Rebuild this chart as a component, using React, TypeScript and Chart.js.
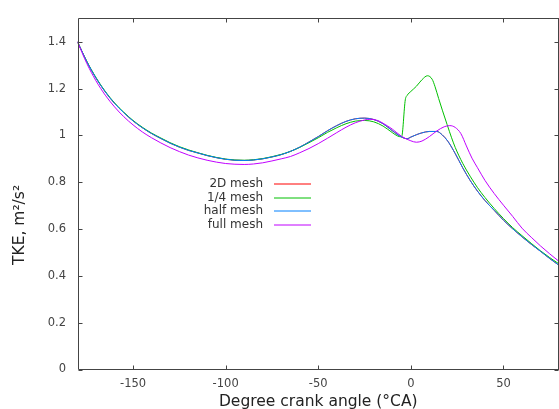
import React, { useEffect, useRef } from "react";
import { Chart, registerables } from "chart.js";

Chart.register(...registerables);

// ---- Data ----
const angles = [
  -180, -175, -170, -165, -160, -155, -150, -145, -140, -135, -130, -125, -120, -115, -110, -105,
  -100, -95, -90, -85, -80, -75, -70, -65, -60, -55, -50, -45, -40, -35, -30, -25, -20, -15, -10,
  -5, -2, 0, 3, 6, 10, 14, 17, 20, 24, 28, 32, 36, 40, 45, 50, 55, 60, 65, 70, 75, 80,
];
// 2D mesh lies underneath the half-mesh curve in the picture
const mesh2D = [
  1.4, 1.316, 1.245, 1.186, 1.137, 1.097, 1.062, 1.033, 1.008, 0.987, 0.967, 0.95, 0.936, 0.925,
  0.914, 0.905, 0.898, 0.894, 0.893, 0.895, 0.9, 0.908, 0.918, 0.932, 0.95, 0.972, 0.995, 1.02,
  1.042, 1.06, 1.071, 1.074, 1.068, 1.05, 1.02, 0.993, 0.986, 0.993, 1.003, 1.011, 1.017, 1.017,
  1.002, 0.975, 0.922, 0.862, 0.808, 0.762, 0.722, 0.68, 0.638, 0.601, 0.567, 0.535, 0.505, 0.474,
  0.445,
];
const halfMesh = [
  1.4, 1.316, 1.245, 1.186, 1.137, 1.097, 1.062, 1.033, 1.008, 0.987, 0.967, 0.95, 0.936, 0.925,
  0.914, 0.905, 0.898, 0.894, 0.893, 0.895, 0.9, 0.908, 0.918, 0.932, 0.95, 0.972, 0.995, 1.02,
  1.042, 1.06, 1.071, 1.074, 1.068, 1.05, 1.02, 0.993, 0.986, 0.993, 1.003, 1.011, 1.017, 1.017,
  1.002, 0.975, 0.922, 0.862, 0.808, 0.762, 0.722, 0.68, 0.638, 0.601, 0.567, 0.535, 0.505, 0.474,
  0.445,
];
const quarterAngles = [
  -180, -175, -170, -165, -160, -155, -150, -145, -140, -135, -130, -125, -120, -115, -110, -105,
  -100, -95, -90, -85, -80, -75, -70, -65, -60, -55, -50, -45, -40, -35, -30, -25, -20, -15, -10,
  -7, -5, -3, -2, 0, 3, 6, 9, 11.5, 13, 15, 17, 19.6, 22, 24, 28, 32, 36, 40, 45, 50, 55, 60, 65,
  70, 75, 80,
];
const quarterMesh = [
  1.4, 1.317, 1.247, 1.188, 1.139, 1.099, 1.064, 1.035, 1.01, 0.989, 0.969, 0.952, 0.938, 0.926,
  0.915, 0.906, 0.899, 0.895, 0.894, 0.896, 0.901, 0.909, 0.919, 0.932, 0.949, 0.969, 0.99, 1.013,
  1.033, 1.05, 1.061, 1.064, 1.058, 1.04, 1.012, 0.997, 0.994, 1.152, 1.171, 1.188, 1.21, 1.238,
  1.255, 1.24, 1.21, 1.158, 1.108, 1.046, 0.99, 0.948, 0.881, 0.826, 0.777, 0.735, 0.688, 0.645,
  0.606, 0.572, 0.539, 0.507, 0.478, 0.451,
];
const fullAngles = [
  -180, -175, -170, -165, -160, -155, -150, -145, -140, -135, -130, -125, -120, -115, -110, -105,
  -100, -95, -90, -85, -80, -75, -70, -65, -60, -55, -50, -45, -40, -35, -30, -25, -22, -18, -15,
  -10, -5, 0, 3, 6, 10, 14, 18, 21, 24, 27, 30, 33, 36, 40, 45, 50, 55, 60, 65, 70, 75, 80,
];
const fullMesh = [
  1.4, 1.308, 1.233, 1.172, 1.122, 1.08, 1.045, 1.015, 0.99, 0.968, 0.948, 0.931, 0.916, 0.904,
  0.894, 0.886, 0.88, 0.877, 0.876, 0.878, 0.883, 0.891, 0.9, 0.91, 0.926, 0.944, 0.965, 0.988,
  1.012, 1.035, 1.054, 1.066, 1.069, 1.064, 1.052, 1.027, 0.996, 0.977, 0.971, 0.976, 0.995, 1.019,
  1.037, 1.042, 1.034, 1.008, 0.955, 0.903, 0.862, 0.808, 0.752, 0.702, 0.654, 0.604, 0.565, 0.528,
  0.494, 0.462,
];
const seriesNames = ["2D mesh", "1/4 mesh", "half mesh", "full mesh"];
const seriesColors = ["#ff0000", "#00c000", "#0080ff", "#c000ff"];
const xTicks = [-150, -100, -50, 0, 50];
const yTicks = [0, 0.2, 0.4, 0.6, 0.8, 1, 1.2, 1.4];
const xTitle = "Degree crank angle (°CA)";
const yTitle = "TKE, m²/s²";

const FONT = '"DejaVu Sans", sans-serif';

const toPoints = (xs: number[], ys: number[]) => xs.map((x, i) => ({ x, y: ys[i] }));

const framePlugin = {
  id: "gnuFrame",
  afterDraw(chart: any) {
    const { ctx, chartArea: a, scales } = chart;
    const L = Math.round(a.left) + 0.5;
    const T = Math.round(a.top) + 0.5;
    const B = Math.round(a.bottom) - 0.5;
    const R = Math.round(a.right) - 0.5;
    ctx.save();
    ctx.strokeStyle = "#444";
    ctx.lineWidth = 1;
    ctx.beginPath();
    ctx.moveTo(L, T);
    ctx.lineTo(R + 1, T);
    ctx.moveTo(L, T);
    ctx.lineTo(L, B);
    ctx.lineTo(R + 1, B);
    ctx.moveTo(R, T);
    ctx.lineTo(R, B);
    const tl = 4;
    xTicks.forEach((v) => {
      const px = Math.round(scales.x.getPixelForValue(v)) + 0.5;
      ctx.moveTo(px, B);
      ctx.lineTo(px, B - tl);
      ctx.moveTo(px, T);
      ctx.lineTo(px, T + tl);
    });
    yTicks.forEach((v) => {
      const py = Math.round(scales.y.getPixelForValue(v)) + 0.5;
      ctx.moveTo(L, py);
      ctx.lineTo(L + tl, py);
      ctx.moveTo(R, py);
      ctx.lineTo(R - tl, py);
    });
    ctx.stroke();

    // axis titles
    ctx.fillStyle = "#222";
    ctx.font = `15.5px ${FONT}`;
    ctx.textAlign = "center";
    ctx.textBaseline = "alphabetic";
    ctx.fillText(xTitle, (a.left + a.right) / 2, 406);
    ctx.save();
    ctx.translate(23.5, (a.top + a.bottom) / 2 + 31);
    ctx.rotate(-Math.PI / 2);
    ctx.fillText(yTitle, 0, 0);
    ctx.restore();
    ctx.restore();
  },
};

const legendPlugin = {
  id: "meshLegend",
  afterDatasetsDraw(chart: any) {
    const { ctx } = chart;
    ctx.save();
    ctx.font = `12px ${FONT}`;
    ctx.fillStyle = "#333";
    ctx.textAlign = "right";
    ctx.textBaseline = "alphabetic";
    ctx.lineWidth = 1;
    seriesNames.forEach((name, i) => {
      const y = 184 + i * 13.67;
      ctx.fillText(name, 263, y + 3);
      ctx.strokeStyle = seriesColors[i];
      ctx.beginPath();
      ctx.moveTo(274, Math.round(y));
      ctx.lineTo(311, Math.round(y));
      ctx.stroke();
    });
    ctx.restore();
  },
};

export default function App() {
  const ref = useRef<HTMLCanvasElement | null>(null);

  useEffect(() => {
    if (!ref.current) return;
    const seriesData = [
      toPoints(angles, mesh2D),
      toPoints(quarterAngles, quarterMesh),
      toPoints(angles, halfMesh),
      toPoints(fullAngles, fullMesh),
    ];
    const chart = new Chart(ref.current, {
      type: "line",
      data: {
        datasets: seriesNames.map((name, i) => ({
          label: name,
          data: seriesData[i],
          borderColor: seriesColors[i],
          backgroundColor: seriesColors[i],
          borderWidth: 1,
          pointRadius: 0,
          fill: false,
          cubicInterpolationMode: "monotone" as const,
          order: seriesNames.length - i,
        })),
      },
      options: {
        animation: false,
        responsive: false,
        devicePixelRatio: 1,
        layout: { padding: { top: 9.5, right: 0, bottom: 0, left: 0 } },
        plugins: {
          legend: { display: false },
          tooltip: { enabled: false },
          title: { display: false },
        },
        scales: {
          x: {
            type: "linear",
            min: -180,
            max: 80,
            border: { display: false },
            grid: { display: false, drawTicks: false },
            afterBuildTicks: (s: any) => {
              s.ticks = xTicks.map((v) => ({ value: v }));
            },
            afterFit: (s: any) => {
              s.height = 39.5;
            },
            ticks: {
              padding: 8,
              color: "#444",
              font: { family: FONT, size: 11.5 },
              maxRotation: 0,
              autoSkip: false,
              callback: (v: any) => String(v),
            },
          },
          y: {
            type: "linear",
            min: 0,
            max: 1.5,
            border: { display: false },
            grid: { display: false, drawTicks: false },
            afterBuildTicks: (s: any) => {
              s.ticks = yTicks.map((v) => ({ value: v }));
            },
            afterFit: (s: any) => {
              s.width = 77.5;
            },
            ticks: {
              padding: 11.5,
              color: "#444",
              font: { family: FONT, size: 11.5 },
              callback: (v: any) => String(v),
            },
          },
        },
      },
      plugins: [legendPlugin, framePlugin],
    });
    return () => chart.destroy();
  }, []);

  return (
    <div style={{ position: "absolute", left: 0, top: 0, width: 559, height: 409, overflow: "hidden", background: "#fff" }}>
      <canvas ref={ref} width={559} height={409} style={{ width: 559, height: 409, display: "block" }} />
    </div>
  );
}
